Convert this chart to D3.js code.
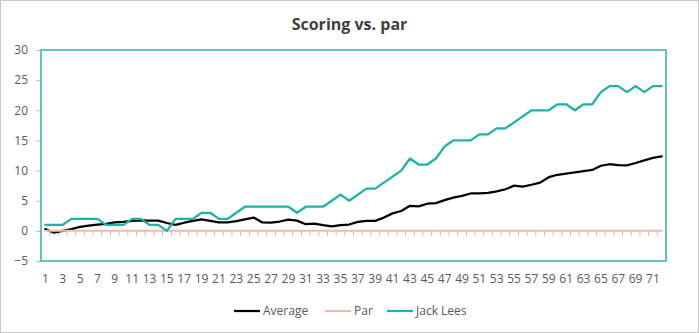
<!DOCTYPE html>
<html>
<head>
<meta charset="utf-8">
<script src="https://cdn.jsdelivr.net/npm/d3@7/dist/d3.min.js"></script>
<style>
  html, body { margin: 0; padding: 0; background: #fff; }
  svg { display: block; font-family: "Open Sans", "Noto Sans", sans-serif; }
</style>
</head>
<body>
<svg id="chart" width="699" height="333"></svg>
<script>
// Round numbers 1..72
const rounds = d3.range(1, 73);

// Cumulative score relative to par after each round
const average = [
  0.3, -0.3, 0, 0.3, 0.65, 0.85, 1.05, 1.15, 1.4, 1.5,
  1.65, 1.75, 1.7, 1.7, 1.3, 1.0, 1.35, 1.65, 1.9, 1.65,
  1.4, 1.4, 1.6, 1.9, 2.2, 1.4, 1.35, 1.55, 1.85, 1.7,
  1.1, 1.2, 0.95, 0.75, 0.95, 1.05, 1.5, 1.65, 1.65, 2.2,
  2.9, 3.3, 4.15, 4.05, 4.5, 4.6, 5.1, 5.5, 5.8, 6.2,
  6.2, 6.3, 6.55, 6.9, 7.5, 7.35, 7.65, 8.0, 8.9, 9.3,
  9.5, 9.7, 9.9, 10.1, 10.8, 11.05, 10.9, 10.85, 11.25, 11.7,
  12.1, 12.35
];
const par = rounds.map(() => 0);
const jackLees = [
  1, 1, 1, 2, 2, 2, 2, 1, 1, 1,
  2, 2, 1, 1, 0, 2, 2, 2, 3, 3,
  2, 2, 3, 4, 4, 4, 4, 4, 4, 3,
  4, 4, 4, 5, 6, 5, 6, 7, 7, 8,
  9, 10, 12, 11, 11, 12, 14, 15, 15, 15,
  16, 16, 17, 17, 18, 19, 20, 20, 20, 21,
  21, 20, 21, 21, 23, 24, 24, 23, 24, 23,
  24, 24
];
const yTicks = [-5, 0, 5, 10, 15, 20, 25, 30];
const xTickLabels = rounds.filter(r => r % 2 === 1);

const series = [
  { name: "Average", values: average, color: "#000000", width: 2.25 },
  { name: "Par", values: par, color: "#F5B7A6", width: 2 },
  { name: "Jack Lees", values: jackLees, color: "#1DB1A8", width: 2.25 }
];

const svg = d3.select("#chart");
const W = 699, H = 333;
const plot = { left: 41, right: 666, top: 50, bottom: 261 };
const textColor = "#595959";
const tickColor = "#BFBFBF";

// outer chart frame
svg.append("rect")
  .attr("x", 0.5).attr("y", 0.5)
  .attr("width", W - 1).attr("height", H - 1)
  .attr("fill", "#fff").attr("stroke", "#C6C6C6");

// title
svg.append("text")
  .attr("x", W / 2).attr("y", 30)
  .attr("text-anchor", "middle")
  .attr("font-size", 16).attr("font-weight", 700)
  .attr("fill", "#404040")
  .text("Scoring vs. par");

const x = d3.scaleBand().domain(rounds).range([plot.left, plot.right]).padding(0);
const xc = r => x(r) + x.bandwidth() / 2;
const y = d3.scaleLinear().domain([-5, 30]).range([plot.bottom, plot.top]);

// y axis: labels and outer tick marks
const yAxis = d3.axisLeft(y).tickValues(yTicks).tickSize(5).tickPadding(8);
const gy = svg.append("g").attr("transform", `translate(${plot.left},0)`).call(yAxis);
gy.select(".domain").remove();
gy.selectAll(".tick line").attr("stroke", tickColor);
gy.selectAll(".tick text").attr("fill", textColor).attr("font-size", 12)
  .attr("font-family", "\"Open Sans\", sans-serif");

// x axis sits at zero; tick marks on category boundaries
const boundaries = rounds.map(r => x(r)).concat([plot.right]);
svg.append("g").selectAll("line").data(boundaries).join("line")
  .attr("x1", d => d).attr("x2", d => d)
  .attr("y1", y(0)).attr("y2", y(0) + 5)
  .attr("stroke", tickColor).attr("stroke-width", 1);

// category labels at the bottom of the plot area
svg.append("g").selectAll("text").data(xTickLabels).join("text")
  .attr("x", d => xc(d)).attr("y", 283)
  .attr("text-anchor", "middle")
  .attr("font-size", 12).attr("fill", textColor)
  .text(d => d);

// plot area frame
svg.append("rect")
  .attr("x", plot.left).attr("y", plot.top)
  .attr("width", plot.right - plot.left).attr("height", plot.bottom - plot.top)
  .attr("fill", "none").attr("stroke", "#2BB5AC").attr("stroke-width", 1.5);

// series lines
const line = d3.line().x((d, i) => xc(rounds[i])).y(d => y(d)).curve(d3.curveLinear);
series.forEach(s => {
  svg.append("path")
    .datum(s.values)
    .attr("d", line)
    .attr("fill", "none")
    .attr("stroke", s.color)
    .attr("stroke-width", s.width)
    .attr("stroke-linejoin", "round")
    .attr("stroke-linecap", "round");
});

// legend
const legendItems = [
  { s: series[0], x: 234 },
  { s: series[1], x: 325 },
  { s: series[2], x: 387 }
];
const lg = svg.append("g");
legendItems.forEach(item => {
  lg.append("line")
    .attr("x1", item.x).attr("x2", item.x + 26)
    .attr("y1", 311).attr("y2", 311)
    .attr("stroke", item.s.color).attr("stroke-width", item.s.width);
  lg.append("text")
    .attr("x", item.x + 29).attr("y", 315)
    .attr("font-size", 12).attr("fill", textColor)
    .text(item.s.name);
});
</script>
</body>
</html>
